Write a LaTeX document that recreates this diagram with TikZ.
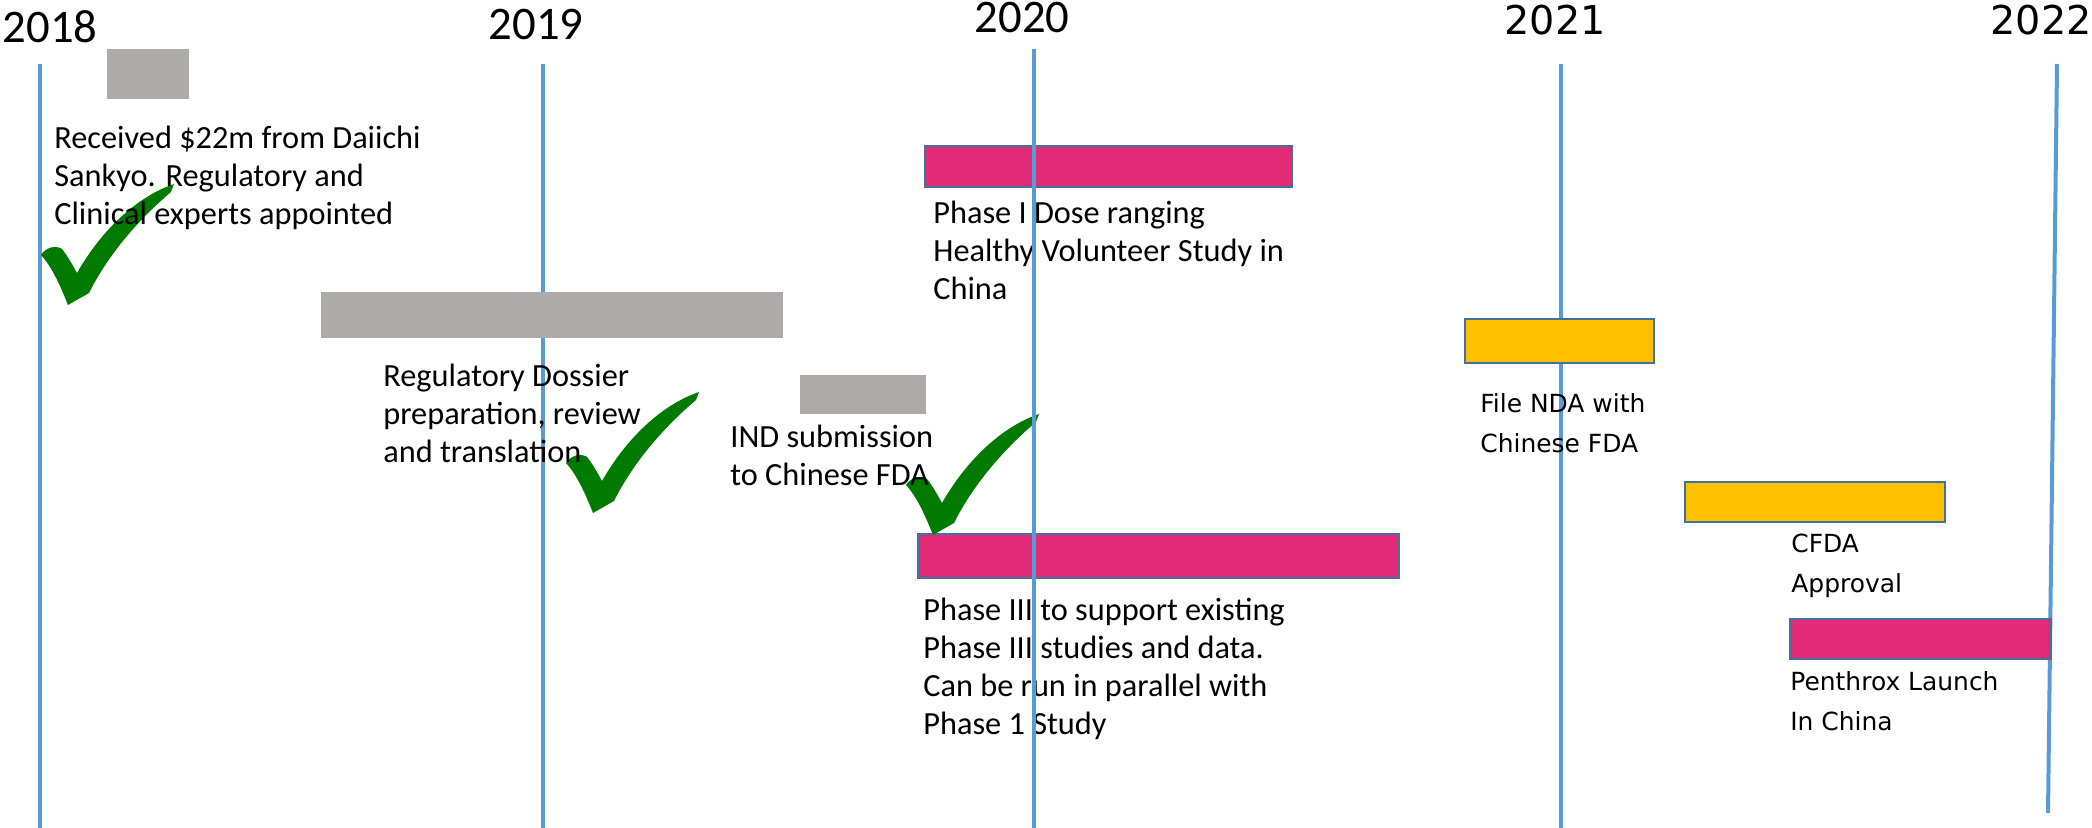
\documentclass[tikz,border=0pt]{standalone}
\usepackage{fontspec}
\setmainfont{Carlito}
\newfontfamily\widefont{DejaVu Sans}
\usepackage{xcolor}
\usepackage{tikz}

\definecolor{yearblue}{HTML}{5B9BD5}
\definecolor{barblue}{HTML}{41719C}
\definecolor{barpink}{HTML}{E12A76}
\definecolor{bargray}{HTML}{AEAAAA}
\definecolor{baryellow}{HTML}{FFC000}
\definecolor{tickgreen}{HTML}{007A00}

\tikzset{
  yearline/.style={yearblue, line width=0.08cm},
  greybar/.style={fill=bargray},
  pinkbar/.style={fill=barpink, draw=barblue, line width=0.045cm},
  goldbar/.style={fill=baryellow, draw=barblue, line width=0.045cm},
  note/.style={anchor=north west, inner sep=0, align=left,
    font=\fontsize{18.4}{21.6}\selectfont},
  widenote/.style={anchor=north west, inner sep=0, align=left,
    font=\widefont\fontsize{14.2}{22.8}\selectfont},
  yearlbl/.style={inner sep=0, font=\fontsize{26.6}{30}\selectfont},
  wideyear/.style={inner sep=0, font=\widefont\fontsize{22.6}{26}\selectfont},
  tick/.pic={
    \fill[tickgreen] (0,0) .. controls (-8,-20) and (-16,-38) .. (-27,-50)
      .. controls (-22,-58) and (-12,-60) .. (-6,-56)
      .. controls (-1,-50) and (4,-41) .. (9,-32)
      .. controls (33,-74) and (68,-108) .. (106,-121)
      -- (103,-113)
      .. controls (70,-85) and (40,-50) .. (21,-12) -- cycle;
  }
}

\begin{document}
\begin{tikzpicture}[x=0.02cm, y=-0.02cm]
\useasboundingbox (0,0) rectangle (2092,828);

% Anni
\node (y2018) at (50,27) [yearlbl] {2018};
\node (y2019) at (536,24) [yearlbl] {2019};
\node (y2020) at (1022,17) [yearlbl] {2020};
\node (y2021) at (1555,20) [wideyear] {2021};
\node (y2022) at (2041,20) [wideyear] {2022};

% Linee verticali
\draw[yearline] (40,64) -- (40,828);
\draw[yearline] (543,64) -- (543,828);
\draw[yearline] (1561,64) -- (1561,828);
\draw[yearline] (2057,64) -- (2048,813);

% Barre grigie
\fill[greybar] (107,49) rectangle (189,99);
\fill[greybar] (321,292) rectangle (783,338);
\fill[greybar] (800,375) rectangle (926,414);

% Barre rosa
\filldraw[pinkbar] (925,146) rectangle (1292,187);
\filldraw[pinkbar] (918,534) rectangle (1399,578);
\filldraw[pinkbar] (1790,619) rectangle (2051,659);

% Barre gialle
\filldraw[goldbar] (1465,319) rectangle (1654,363);
\filldraw[goldbar] (1685,482) rectangle (1945,522);

% Spunte
\pic at (68,305) {tick};
\pic at (593,513) {tick};
\pic at (933,535) {tick};

% Testi
\node (recv) at (54,122) [note] {\strut Received \$22m from Daiichi\\Sankyo. Regulatory and\\Clinical experts appointed};
\node (dossier) at (383,360) [note] {\strut Regulatory Dossier\\preparation, review\\and translation};
\node (ind) at (730,421) [note] {\strut IND submission\\to Chinese FDA};
\node (phaseone) at (933,197) [note] {\strut Phase I Dose ranging\\Healthy Volunteer Study in\\China};
\node (phasethree) at (923,594) [note] {\strut Phase III to support existing\\Phase III studies and data.\\Can be run in parallel with\\Phase 1 Study};
\node (nda) at (1480,384) [widenote] {\strut File NDA with\\Chinese FDA};
\node (cfda) at (1791,524) [widenote] {\strut CFDA\\Approval};
\node (launch) at (1790,662) [widenote] {\strut Penthrox Launch\\In China};

% Linea 2020 sopra le barre
\draw[yearline] (1034,49) -- (1034,828);

\end{tikzpicture}
\end{document}
